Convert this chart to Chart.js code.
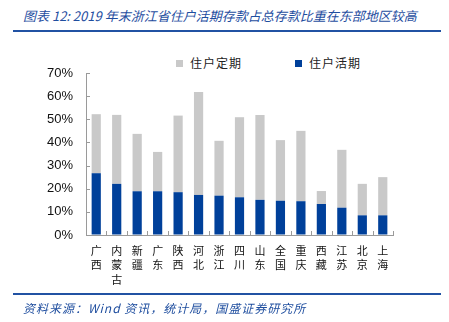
<!DOCTYPE html>
<html>
<head>
<meta charset="utf-8">
<script src="https://cdn.jsdelivr.net/npm/chart.js@4/dist/chart.umd.min.js"></script>
<style>
  body { margin: 0; background: #fff; }
  #wrap { position: relative; width: 449px; height: 322px; overflow: hidden; }
  #chart { position: absolute; left: 0; top: 0; }
  .title { position: absolute; left: 23px; top: 6px; font: italic 13px "Noto Sans CJK SC", "Liberation Sans", sans-serif; color: #1F4E9F; white-space: nowrap; }
  .rule { position: absolute; left: 13px; width: 428px; height: 2px; background: #2152A3; }
  .source { position: absolute; left: 23px; top: 299px; font: italic 12px "Noto Sans CJK SC", "Liberation Sans", sans-serif; color: #1F4E9F; white-space: nowrap; letter-spacing: 1px; }
  .legend-item { position: absolute; top: 54px; font: 12px "Noto Sans CJK SC", sans-serif; color: #222; white-space: nowrap; letter-spacing: 1px; }
  .legend-item span { display: inline-block; width: 7px; height: 7px; margin-right: 7px; vertical-align: 1px; }
</style>
</head>
<body>
<div id="wrap">
  <div class="title">图表 12: 2019 年末浙江省住户活期存款占总存款比重在东部地区较高</div>
  <div class="rule" style="top:30px"></div>
  <div id="legend"></div>
  <canvas id="chart" width="449" height="322"></canvas>
  <div class="rule" style="top:293px"></div>
  <div class="source">资料来源：Wind 资讯，统计局，国盛证券研究所</div>
</div>
<script>
// regions (one char per line under the axis)
const regions = ['广西', '内蒙古', '新疆', '广东', '陕西', '河北', '浙江', '四川', '山东', '全国', '重庆', '西藏', '江苏', '北京', '上海'];

// 住户活期 share of total deposits, %
const demandShare = [26.7, 22.1, 18.9, 18.9, 18.5, 17.3, 17.0, 16.3, 15.2, 14.8, 14.6, 13.4, 11.8, 8.5, 8.5];
// 住户定期 share of total deposits, %
const timeShare = [25.5, 29.8, 24.8, 17.0, 33.1, 44.5, 23.7, 34.6, 36.7, 26.2, 30.4, 5.6, 25.0, 13.6, 16.5];

const yTicks = [0, 10, 20, 30, 40, 50, 60, 70];

const BLUE = '#00409A';
const GRAY = '#C9C9C9';

// short tick marks drawn inside the plot, like the original
const innerTicks = {
    id: 'innerTicks',
    afterDraw(chart) {
        const {ctx, chartArea, scales} = chart;
        ctx.save();
        ctx.strokeStyle = '#9a9a9a';
        ctx.lineWidth = 1;
        ctx.beginPath();
        scales.y.ticks.forEach(t => {
            const y = Math.round(scales.y.getPixelForValue(t.value)) + 0.5;
            ctx.moveTo(chartArea.left, y);
            ctx.lineTo(chartArea.left + 4, y);
        });
        for (let i = 0; i <= regions.length; i++) {
            const x = Math.round(scales.x.getPixelForValue(i - 0.5)) + 0.5;
            ctx.moveTo(x, chartArea.bottom);
            ctx.lineTo(x, chartArea.bottom - 4);
        }
        ctx.stroke();
        ctx.restore();
    }
};

const chartData = {
    labels: regions.map(r => r.split('')),
    datasets: [
        {
            label: '住户活期',
            data: demandShare,
            backgroundColor: BLUE,
        },
        {
            label: '住户定期',
            data: timeShare,
            backgroundColor: GRAY,
        }
    ]
};

const config = {
    type: 'bar',
    data: chartData,
    options: {
        responsive: false,
        animation: false,
        devicePixelRatio: 1,
        layout: { padding: { left: 0, right: 56, top: 73, bottom: 0 } },
        datasets: { bar: { categoryPercentage: 1, barPercentage: 0.45 } },
        plugins: {
            legend: { display: false },
            tooltip: { enabled: false }
        },
        scales: {
            x: {
                stacked: true,
                grid: { drawOnChartArea: false, drawTicks: false },
                border: { color: '#9a9a9a' },
                ticks: {
                    autoSkip: false,
                    maxRotation: 0,
                    padding: 8,
                    color: '#111',
                    font: { family: '"Noto Sans CJK SC", sans-serif', size: 11, lineHeight: 1.35 }
                },
                afterFit(scale) { scale.height = 87; }
            },
            y: {
                stacked: true,
                min: 0,
                max: 70,
                afterBuildTicks(scale) { scale.ticks = yTicks.map(v => ({value: v})); },
                grid: { drawOnChartArea: false, drawTicks: false },
                border: { color: '#9a9a9a' },
                ticks: {
                    padding: 13,
                    color: '#111',
                    font: { family: '"Liberation Sans", Arial, sans-serif', size: 13 },
                    callback: v => v + '%'
                },
                afterFit(scale) { scale.width = 86; }
            }
        }
    },
    plugins: [innerTicks]
};

const myChart = new Chart(document.getElementById('chart'), config);

// legend: 定期 first, then 活期
const legendPos = [176, 295];
const legend = document.getElementById('legend');
chartData.datasets.slice().reverse().forEach((ds, i) => {
    const item = document.createElement('div');
    item.className = 'legend-item';
    item.style.left = legendPos[i] + 'px';
    item.innerHTML = `<span style="background:${ds.backgroundColor}"></span>${ds.label}`;
    legend.appendChild(item);
});
</script>
</body>
</html>
